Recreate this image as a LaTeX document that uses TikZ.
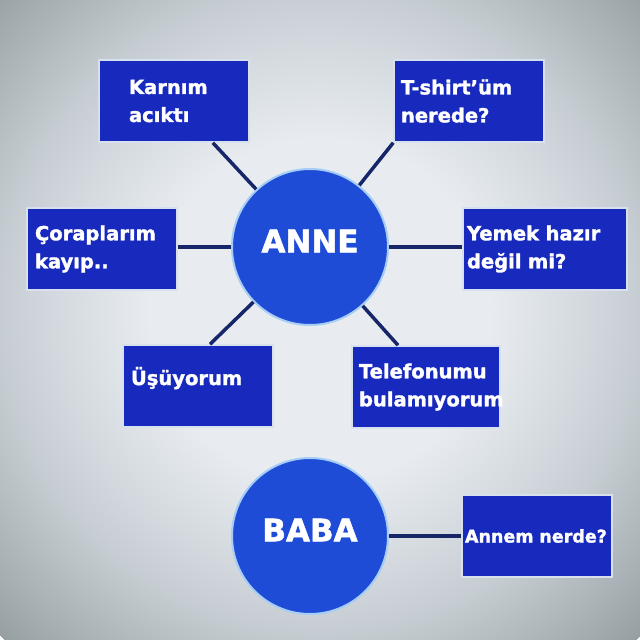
\documentclass[tikz,border=0pt]{standalone}
\usepackage{fontspec}
\setmainfont{DejaVu Sans}[BoldFeatures={FakeBold=1.6}]
\usepackage{xcolor}
\definecolor{BoxBlue}{RGB}{24,42,190}
\definecolor{BoxEdge}{RGB}{215,225,238}
\definecolor{DiscBlue}{RGB}{30,76,214}
\definecolor{DiscEdge}{RGB}{165,205,245}
\definecolor{LinkNavy}{RGB}{22,38,105}
\definecolor{BgCentre}{RGB}{232,236,241}
\definecolor{BgMid}{RGB}{198,205,210}
\definecolor{BgEdge}{RGB}{150,160,163}
\pgfdeclareradialshading{backdrop}{\pgfpoint{0bp}{0bp}}%
  {color(0bp)=(BgCentre); color(170bp)=(BgCentre); color(320bp)=(BgMid);
   color(455bp)=(BgEdge)}

\begin{document}
\begin{tikzpicture}[x=1pt,y=-1pt,
  box/.style={draw=BoxEdge,line width=1.5pt,fill=BoxBlue,text=white,
              minimum width=150pt,minimum height=82pt,inner xsep=0pt,
              align=left,font=\bfseries\fontsize{19.5}{28}\selectfont},
  disc/.style={circle,draw=DiscEdge,line width=2pt,fill=DiscBlue,text=white,
               minimum size=156pt,text depth=12pt,
               font=\bfseries\fontsize{31}{36}\selectfont},
  link/.style={line width=3.5pt,LinkNavy},
]
\useasboundingbox (0,0) rectangle (640,640);
\begin{scope}
  \clip (0,0) rectangle (640,640);
  \node[inner sep=0pt] (backdrop) at (320,310) {\pgfuseshading{backdrop}};
\end{scope}

\node[disc] (anne) at (310,247) {ANNE};
\node[disc] (baba) at (310,536) {BABA};

\node[box,text width=90pt] (karnim) at (174,101) {Karnım\\acıktı};
\node[box,text width=136pt] (tshirt) at (469,101) {T-shirt'üm\\nerede?};
\node[box,text width=134pt] (corap) at (102,249) {Çoraplarım\\kayıp..};
\node[box,minimum width=164pt,text width=156pt] (yemek) at (545,249)
  {Yemek hazır\\değil mi?};
\node[box,text width=134pt,text depth=20pt] (usuyor) at (198,386) {Üşüyorum};
\node[box,minimum width=148pt,text width=134pt] (telefon) at (426,387)
  {Telefonumu\\bulamıyorum};
\node[box,text width=144pt,font=\bfseries\fontsize{17.5}{28}\selectfont]
  (annem) at (537,536) {Annem nerde?};

\draw[link] (anne) -- (karnim);
\draw[link] (anne) -- (tshirt.south west);
\draw[link] (anne.west) -- (anne.west -| corap.east);
\draw[link] (anne.east) -- (anne.east -| yemek.west);
\draw[link] (anne) -- ([xshift=12pt]usuyor.north);
\draw[link] (anne) -- ([xshift=-28pt]telefon.north);
\draw[link] (baba) -- (annem);
\end{tikzpicture}
\end{document}
